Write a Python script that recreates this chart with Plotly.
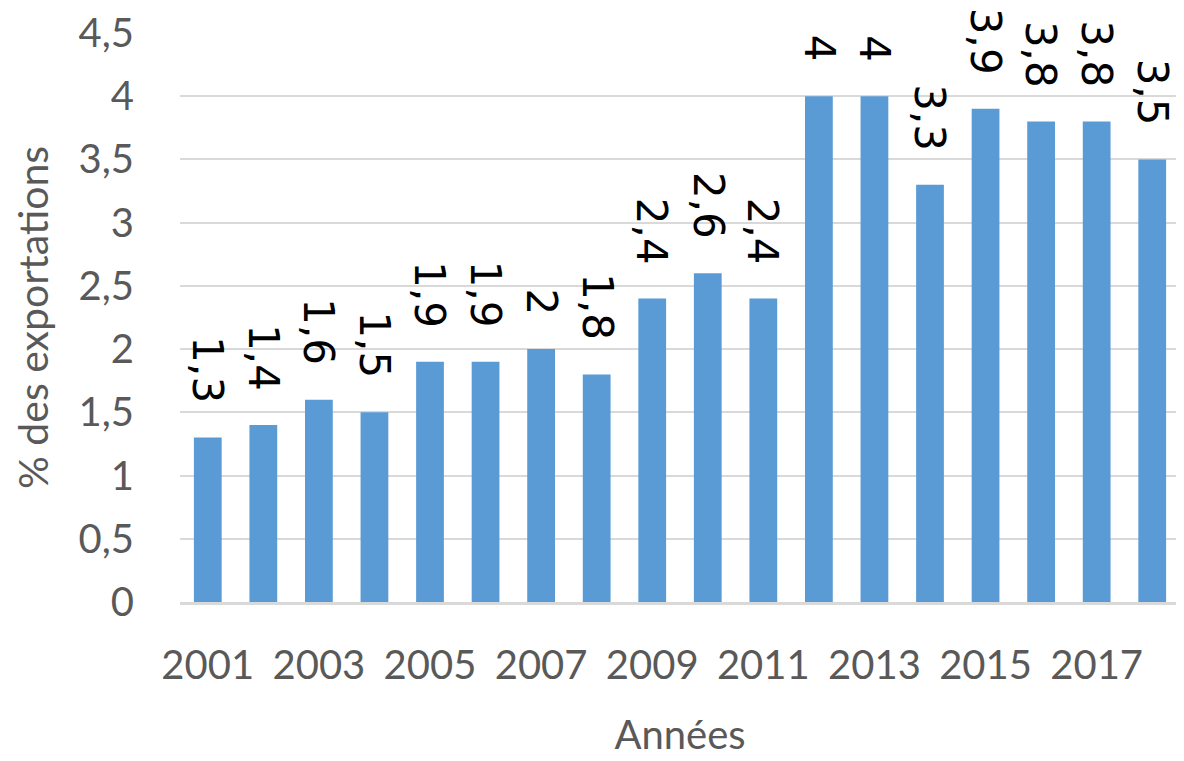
import plotly.graph_objects as go

years = list(range(2001, 2019))
values = [1.3, 1.4, 1.6, 1.5, 1.9, 1.9, 2.0, 1.8, 2.4, 2.6, 2.4, 4.0, 4.0, 3.3, 3.9, 3.8, 3.8, 3.5]
y_ticks = [0, 0.5, 1, 1.5, 2, 2.5, 3, 3.5, 4, 4.5]
x_ticks = list(range(2001, 2019, 2))


def fr(v):
    # French decimal comma, no trailing ",0"
    return ("%g" % v).replace(".", ",")


axis_font = dict(family="Lato, sans-serif", size=40, color="#595959")

fig = go.Figure(go.Bar(
    x=years,
    y=values,
    marker=dict(color="#5B9BD5", line=dict(width=0)),
    hoverinfo="x+y",
))

# value labels rotated like the original, sitting a bit above each bar
for yr, v in zip(years, values):
    fig.add_annotation(
        x=yr, y=v, text=fr(v),
        textangle=90,
        xanchor="center", yanchor="bottom",
        yshift=32,
        showarrow=False,
        font=dict(family="DejaVu Sans", size=42, color="black"),
    )

fig.update_layout(
    width=1184,
    height=761,
    margin=dict(l=172, r=12, t=25, b=167),
    paper_bgcolor="white",
    plot_bgcolor="white",
    bargap=0.5,
    showlegend=False,
    xaxis=dict(
        range=[2000.5, 2018.5],
        tickvals=x_ticks,
        ticktext=[str(t) for t in x_ticks],
        tickfont=axis_font,
        ticklabelstandoff=26,
        showgrid=False,
        zeroline=False,
        showline=True,
        linecolor="#d9d9d9",
        linewidth=3,
        automargin=False,
        title=dict(text="Années", font=axis_font, standoff=34),
    ),
    yaxis=dict(
        range=[0, 4.5],
        tickvals=y_ticks,
        ticktext=[fr(t) for t in y_ticks],
        tickfont=axis_font,
        ticklabelstandoff=45,
        showgrid=True,
        gridcolor="#d9d9d9",
        gridwidth=2,
        zeroline=False,
        automargin=False,
        title=dict(text="% des exportations", font=dict(axis_font, size=41), standoff=24),
    ),
)

fig.write_html("out.html")
